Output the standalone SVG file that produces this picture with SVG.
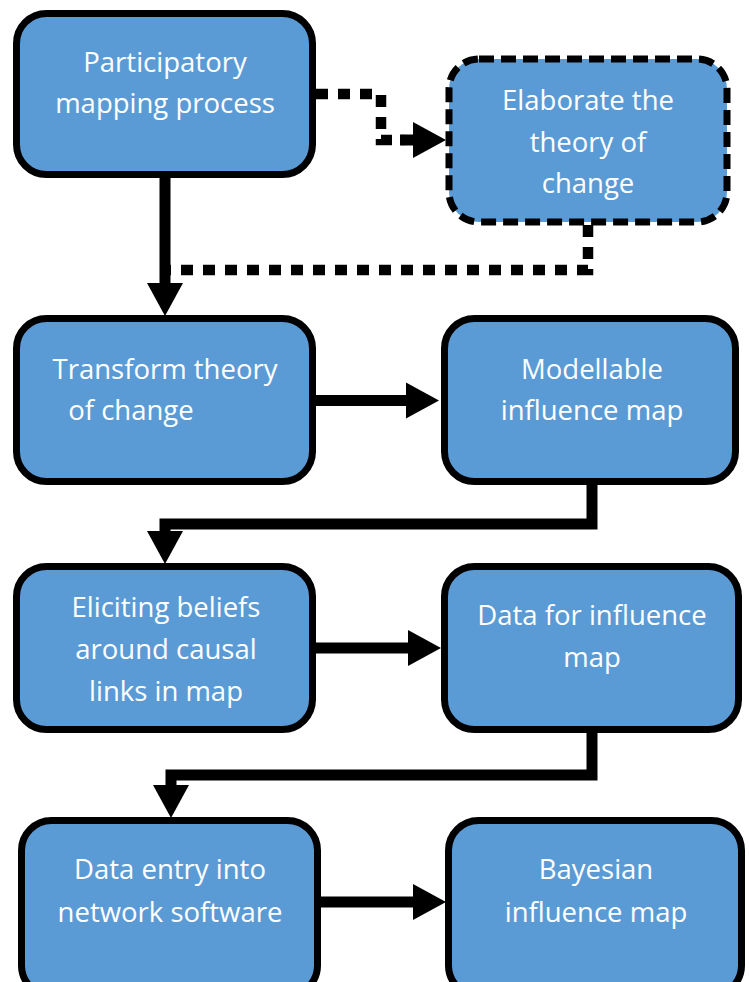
<svg xmlns="http://www.w3.org/2000/svg" width="749" height="982" viewBox="0 0 749 982">
<style>
.box{fill:#5B9BD5;stroke:#000;stroke-width:7}
.dash{stroke-dasharray:15 7}
.t{fill:#fff;font-family:"Open Sans","Noto Sans",sans-serif;font-size:27.5px;text-anchor:middle}
.c{fill:none;stroke:#000;stroke-width:11}
.d{fill:none;stroke:#000;stroke-width:10.5;stroke-dasharray:12 10}
</style>
<defs>
<marker id="ah" markerUnits="userSpaceOnUse" markerWidth="34" markerHeight="36" refX="1" refY="18" orient="auto" overflow="visible">
<path d="M0,0 L33,18 L0,36 Z" fill="#000"/>
</marker>
</defs>
<rect width="749" height="982" fill="#fff"/>
<g id="connectors">
<path class="c" d="M165,178 V284" marker-end="url(#ah)"/>
<path class="d" d="M316,94 H381 V140 H404"/>
<path class="c" d="M400,140 H414" marker-end="url(#ah)"/>
<path class="d" d="M588,225 V270 H170"/>
<path class="c" d="M316,400.5 H407" marker-end="url(#ah)"/>
<path class="c" d="M592,485 V524 H165 V532" marker-end="url(#ah)"/>
<path class="c" d="M316,648 H409" marker-end="url(#ah)"/>
<path class="c" d="M592,733 V775 H171 V786" marker-end="url(#ah)"/>
<path class="c" d="M321,902 H414" marker-end="url(#ah)"/>
</g>
<g id="n1"><rect class="box" x="16.5" y="13.5" width="296" height="161" rx="30"/>
<text class="t" x="165" y="72">Participatory</text><text class="t" x="165" y="113">mapping process</text></g>
<g id="n2"><rect class="box dash" x="449" y="59" width="278" height="163" rx="30"/>
<text class="t" x="588" y="110">Elaborate the</text><text class="t" x="588" y="152">theory of</text><text class="t" x="588" y="193">change</text></g>
<g id="n3"><rect class="box" x="16.5" y="318.5" width="296" height="163" rx="30"/>
<text class="t" x="165" y="379">Transform theory</text><text class="t" x="131" y="420">of change</text></g>
<g id="n4"><rect class="box" x="444.5" y="318.5" width="291" height="163" rx="30"/>
<text class="t" x="592" y="379">Modellable</text><text class="t" x="592" y="420">influence map</text></g>
<g id="n5"><rect class="box" x="16.5" y="566.5" width="296" height="163" rx="30"/>
<text class="t" x="166" y="617">Eliciting beliefs</text><text class="t" x="166" y="659">around causal</text><text class="t" x="166" y="701">links in map</text></g>
<g id="n6"><rect class="box" x="444.5" y="566.5" width="294" height="163" rx="30"/>
<text class="t" x="592" y="625">Data for influence</text><text class="t" x="592" y="667">map</text></g>
<g id="n7"><rect class="box" x="21.5" y="820.5" width="296" height="175" rx="30"/>
<text class="t" x="170" y="879">Data entry into</text><text class="t" x="170" y="922">network software</text></g>
<g id="n8"><rect class="box" x="448.5" y="820.5" width="293" height="175" rx="30"/>
<text class="t" x="596" y="879">Bayesian</text><text class="t" x="596" y="922">influence map</text></g>
</svg>
